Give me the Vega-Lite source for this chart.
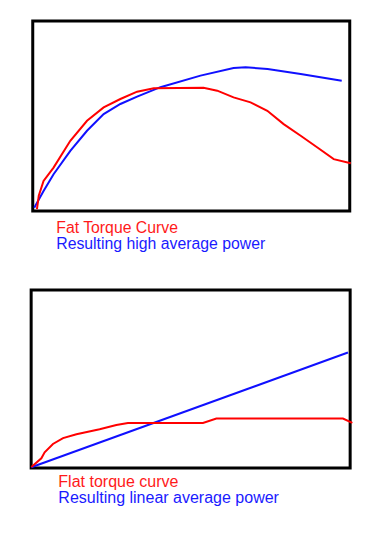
{
  "$schema": "https://vega.github.io/schema/vega-lite/v6.json",
  "padding": {"left": 25, "top": 19, "right": 30, "bottom": 0},
  "background": "white",
  "config": {"view": {"stroke": "black", "strokeWidth": 3}, "font": "Liberation Sans"},
  "datasets": {
    "top": [
      {"rpm": 0.47, "value": 1.74, "series": "power"},
      {"rpm": 3.41, "value": 10.55, "series": "power"},
      {"rpm": 6.57, "value": 19.37, "series": "power"},
      {"rpm": 11.85, "value": 31.66, "series": "power"},
      {"rpm": 17.12, "value": 42.22, "series": "power"},
      {"rpm": 22.37, "value": 51.03, "series": "power"},
      {"rpm": 27.65, "value": 56.31, "series": "power"},
      {"rpm": 32.92, "value": 60.16, "series": "power"},
      {"rpm": 40.28, "value": 65.17, "series": "power"},
      {"rpm": 52.92, "value": 71.24, "series": "power"},
      {"rpm": 63.35, "value": 75.3, "series": "power"},
      {"rpm": 67.14, "value": 75.62, "series": "power"},
      {"rpm": 74.09, "value": 74.78, "series": "power"},
      {"rpm": 84.52, "value": 72.14, "series": "power"},
      {"rpm": 97.47, "value": 68.6, "series": "power"},
      {"rpm": 1.33, "value": 1.0, "series": "torque"},
      {"rpm": 1.9, "value": 8.0, "series": "torque"},
      {"rpm": 3.41, "value": 15.83, "series": "torque"},
      {"rpm": 6.57, "value": 22.85, "series": "torque"},
      {"rpm": 11.85, "value": 36.94, "series": "torque"},
      {"rpm": 17.12, "value": 47.49, "series": "torque"},
      {"rpm": 22.37, "value": 54.51, "series": "torque"},
      {"rpm": 27.65, "value": 58.94, "series": "torque"},
      {"rpm": 32.92, "value": 62.8, "series": "torque"},
      {"rpm": 38.17, "value": 64.64, "series": "torque"},
      {"rpm": 53.87, "value": 64.91, "series": "torque"},
      {"rpm": 58.2, "value": 63.32, "series": "torque"},
      {"rpm": 63.35, "value": 59.79, "series": "torque"},
      {"rpm": 68.72, "value": 57.15, "series": "torque"},
      {"rpm": 74.0, "value": 52.77, "series": "torque"},
      {"rpm": 79.15, "value": 45.75, "series": "torque"},
      {"rpm": 84.52, "value": 39.58, "series": "torque"},
      {"rpm": 89.8, "value": 33.4, "series": "torque"},
      {"rpm": 94.94, "value": 27.28, "series": "torque"},
      {"rpm": 100.32, "value": 25.17, "series": "torque"}
    ],
    "bottom": [
      {"rpm": 0.06, "value": 0.39, "series": "power"},
      {"rpm": 99.31, "value": 64.88, "series": "power"},
      {"rpm": 0.06, "value": 0.56, "series": "torque"},
      {"rpm": 3.2, "value": 5.46, "series": "torque"},
      {"rpm": 4.23, "value": 8.8, "series": "torque"},
      {"rpm": 6.83, "value": 13.51, "series": "torque"},
      {"rpm": 10.0, "value": 16.8, "series": "torque"},
      {"rpm": 14.2, "value": 19.0, "series": "torque"},
      {"rpm": 21.47, "value": 21.78, "series": "torque"},
      {"rpm": 26.71, "value": 24.2, "series": "torque"},
      {"rpm": 30.34, "value": 25.32, "series": "torque"},
      {"rpm": 53.86, "value": 25.32, "series": "torque"},
      {"rpm": 58.06, "value": 27.74, "series": "torque"},
      {"rpm": 97.74, "value": 27.74, "series": "torque"},
      {"rpm": 100.69, "value": 25.32, "series": "torque"}
    ]
  },
  "spacing": 34,
  "center": true,
  "vconcat": [
    {
      "width": 317,
      "height": 190,
      "data": {"name": "top"},
      "title": {
        "text": "Fat Torque Curve",
        "subtitle": "Resulting high average power",
        "orient": "bottom",
        "anchor": "start",
        "dx": 26,
        "offset": 8,
        "color": "#ff1a1a",
        "subtitleColor": "#1a1aff",
        "fontSize": 15.8,
        "subtitleFontSize": 15.8,
        "fontWeight": "normal",
        "font": "Liberation Sans",
        "subtitleFont": "Liberation Sans",
        "subtitlePadding": 0
      },
      "mark": {"type": "line", "strokeWidth": 2},
      "encoding": {
        "x": {"field": "rpm", "type": "quantitative", "axis": null, "scale": {"domain": [0, 100], "nice": false, "zero": false}},
        "y": {"field": "value", "type": "quantitative", "axis": null, "scale": {"domain": [0, 100], "nice": false, "zero": false}},
        "color": {"field": "series", "type": "nominal", "legend": null, "scale": {"domain": ["torque", "power"], "range": ["#ff0000", "#1010ff"]}},
        "order": {"field": "rpm", "type": "quantitative"}
      }
    },
    {
      "width": 319,
      "height": 178,
      "data": {"name": "bottom"},
      "title": {
        "text": "Flat torque curve",
        "subtitle": "Resulting linear average power",
        "orient": "bottom",
        "anchor": "start",
        "dx": 31,
        "offset": 3,
        "color": "#ff1a1a",
        "subtitleColor": "#1a1aff",
        "fontSize": 16,
        "subtitleFontSize": 16,
        "fontWeight": "normal",
        "font": "Liberation Sans",
        "subtitleFont": "Liberation Sans",
        "subtitlePadding": 0
      },
      "mark": {"type": "line", "strokeWidth": 2},
      "encoding": {
        "x": {"field": "rpm", "type": "quantitative", "axis": null, "scale": {"domain": [0, 100], "nice": false, "zero": false}},
        "y": {"field": "value", "type": "quantitative", "axis": null, "scale": {"domain": [0, 100], "nice": false, "zero": false}},
        "color": {"field": "series", "type": "nominal", "legend": null, "scale": {"domain": ["torque", "power"], "range": ["#ff0000", "#1010ff"]}},
        "order": {"field": "rpm", "type": "quantitative"}
      }
    }
  ]
}
